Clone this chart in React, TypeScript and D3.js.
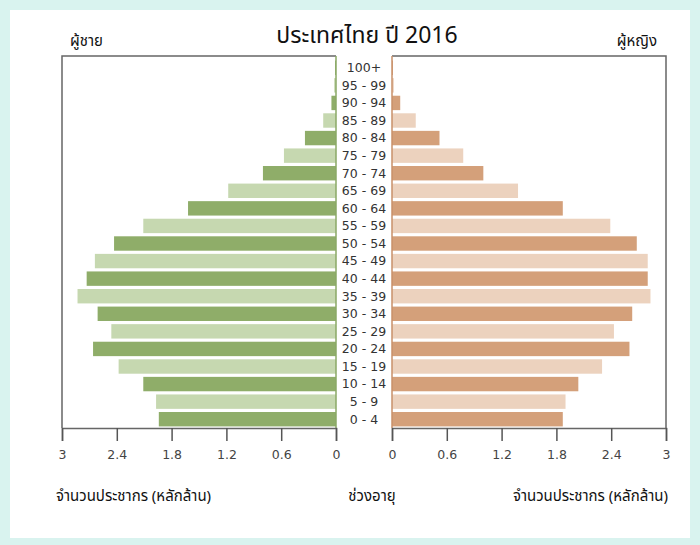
import * as d3 from "d3";
import { useEffect, useRef } from "react";

const ageGroups = [
  "0 - 4", "5 - 9", "10 - 14", "15 - 19", "20 - 24", "25 - 29", "30 - 34",
  "35 - 39", "40 - 44", "45 - 49", "50 - 54", "55 - 59", "60 - 64", "65 - 69",
  "70 - 74", "75 - 79", "80 - 84", "85 - 89", "90 - 94", "95 - 99", "100+",
];
const male = [
  1.94, 1.97, 2.11, 2.38, 2.66, 2.46, 2.61, 2.83, 2.73, 2.64, 2.43,
  2.11, 1.62, 1.18, 0.8, 0.57, 0.34, 0.14, 0.05, 0.02, 0.01,
];
const female = [
  1.87, 1.9, 2.04, 2.3, 2.6, 2.43, 2.63, 2.83, 2.8, 2.8, 2.68,
  2.39, 1.87, 1.38, 1.0, 0.78, 0.52, 0.26, 0.09, 0.02, 0.01,
];
const ticks = [0, 0.6, 1.2, 1.8, 2.4, 3];

const W = 700;
const H = 545;
const thaiFont = "'Noto Sans Thai', 'Noto Sans', 'DejaVu Sans', sans-serif";
const numFont = "'DejaVu Sans', sans-serif";

export default function App() {
  const ref = useRef<SVGSVGElement>(null);

  useEffect(() => {
    if (!ref.current) return;
    const svg = d3.select(ref.current);
    svg.selectAll("*").remove();

    const top = 56;
    const bottom = 428;

    svg.append("rect").attr("width", W).attr("height", H).attr("fill", "#d9f3ef");
    svg.append("rect")
      .attr("x", 10).attr("y", 10).attr("width", 680).attr("height", 528)
      .attr("fill", "#fff");

    const y = d3.scaleBand<string>()
      .domain([...ageGroups].reverse())
      .range([top + 3, bottom])
      .paddingInner(0.18)
      .paddingOuter(0.09);

    const xL = d3.scaleLinear().domain([0, 3]).range([336, 62]);
    const xR = d3.scaleLinear().domain([0, 3]).range([392, 666]);

    // frames
    svg.append("path")
      .attr("d", `M${xL(0)},${top}H${xL(3)}V${bottom}`)
      .attr("fill", "none").attr("stroke", "#666").attr("stroke-width", 1.5);
    svg.append("path")
      .attr("d", `M${xR(0)},${top}H${xR(3)}V${bottom}`)
      .attr("fill", "none").attr("stroke", "#666").attr("stroke-width", 1.5);

    const darkG = "#8fad69";
    const lightG = "#c6d8b0";
    const darkO = "#d4a07a";
    const lightO = "#ecd2be";

    svg.append("g").selectAll("rect")
      .data(male)
      .join("rect")
      .attr("x", (d) => xL(d))
      .attr("y", (_, i) => y(ageGroups[i])!)
      .attr("width", (d) => xL(0) - xL(d))
      .attr("height", y.bandwidth())
      .attr("fill", (_, i) => (i % 2 === 0 ? darkG : lightG));

    svg.append("g").selectAll("rect")
      .data(female)
      .join("rect")
      .attr("x", xR(0))
      .attr("y", (_, i) => y(ageGroups[i])!)
      .attr("width", (d) => xR(d) - xR(0))
      .attr("height", y.bandwidth())
      .attr("fill", (_, i) => (i % 2 === 0 ? darkO : lightO));

    svg.append("line")
      .attr("x1", xL(0)).attr("x2", xL(0)).attr("y1", top).attr("y2", bottom)
      .attr("stroke", "#8aa866").attr("stroke-width", 1.5);
    svg.append("line")
      .attr("x1", xR(0)).attr("x2", xR(0)).attr("y1", top).attr("y2", bottom)
      .attr("stroke", "#c8906a").attr("stroke-width", 1.5);

    // age labels
    svg.append("g").selectAll("text")
      .data(ageGroups)
      .join("text")
      .attr("x", 364)
      .attr("y", (d) => y(d)! + y.bandwidth() / 2)
      .attr("dy", "0.35em")
      .attr("text-anchor", "middle")
      .attr("font-family", numFont)
      .attr("font-size", 12.5)
      .attr("fill", "#333")
      .text((d) => d);

    // axes
    const fmt = (d: d3.NumberValue) => (+d === 0 || +d === 3 ? String(d) : d3.format(".1f")(d));
    const axL = svg.append("g")
      .attr("transform", `translate(0,${bottom})`)
      .call(d3.axisBottom(xL).tickValues(ticks).tickFormat(fmt).tickSize(13).tickPadding(9));
    const axR = svg.append("g")
      .attr("transform", `translate(0,${bottom})`)
      .call(d3.axisBottom(xR).tickValues(ticks).tickFormat(fmt).tickSize(13).tickPadding(9));
    [axL, axR].forEach((ax) => {
      ax.select(".domain").attr("stroke", "#666").attr("stroke-width", 1.5);
      ax.selectAll(".tick line").attr("stroke", "#555").attr("stroke-width", 1.5);
      ax.selectAll("text")
        .attr("font-family", numFont)
        .attr("font-size", 12.5)
        .attr("fill", "#444");
    });

    const label = (x: number, yy: number, t: string, size: number, anchor = "start") =>
      svg.append("text")
        .attr("x", x).attr("y", yy)
        .attr("text-anchor", anchor)
        .attr("font-family", thaiFont)
        .attr("font-size", size)
        .attr("fill", "#111")
        .text(t);

    label(367, 43, "ประเทศไทย ปี 2016", 23, "middle");
    label(70, 46, "ผู้ชาย", 15);
    label(657, 46, "ผู้หญิง", 15, "end");
    label(56, 501, "จำนวนประชากร (หลักล้าน)", 15);
    label(372, 501, "ช่วงอายุ", 15, "middle");
    label(668, 501, "จำนวนประชากร (หลักล้าน)", 15, "end");
  }, []);

  return (
    <svg
      ref={ref}
      width={W}
      height={H}
      style={{ position: "absolute", left: 0, top: 0 }}
    />
  );
}
